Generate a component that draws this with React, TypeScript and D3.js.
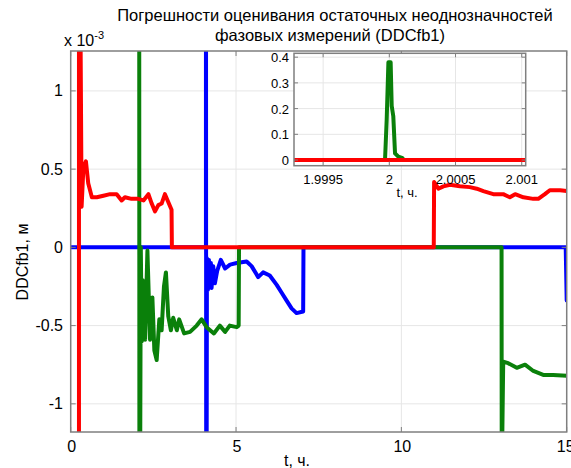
import React from "react";
import * as d3 from "d3";

// main plot values (x 10^-3), t in hours
const redSeries: [number, number][] = [
  [0.25, -3], [0.25, 3], [0.33, 0.26], [0.38, 0.49], [0.43, 0.535], [0.46, 0.55],
  [0.53, 0.41], [0.64, 0.32], [0.79, 0.32], [0.99, 0.33], [1.19, 0.34], [1.39, 0.34],
  [1.54, 0.3], [1.64, 0.32], [1.84, 0.31], [2.04, 0.31], [2.2, 0.3], [2.35, 0.34],
  [2.45, 0.28], [2.55, 0.23], [2.65, 0.27], [2.75, 0.28], [2.85, 0.34], [2.95, 0.29],
  [3.05, 0.24], [3.06, 0], [10.98, 0], [10.99, 0.417], [11.12, 0.375], [11.27, 0.39],
  [11.47, 0.4], [11.77, 0.39], [12.07, 0.385], [12.28, 0.375], [12.48, 0.36], [12.78, 0.34],
  [13.08, 0.34], [13.28, 0.32], [13.44, 0.34], [13.69, 0.32], [13.99, 0.31], [14.14, 0.31],
  [14.34, 0.34], [14.49, 0.365], [14.8, 0.365], [15, 0.36],
];

const greenSeries: [number, number][] = [
  [2.07, 3], [2.08, -3], [2.12, 0.0], [2.15, -0.6], [2.18, -0.21], [2.25, -0.59],
  [2.32, -0.02], [2.4, -0.59], [2.47, -0.32], [2.53, -0.66], [2.6, -0.72], [2.68, -0.46],
  [2.75, -0.53], [2.82, -0.25], [2.88, -0.16], [2.95, -0.44], [3.03, -0.53], [3.1, -0.45],
  [3.21, -0.53], [3.28, -0.46], [3.43, -0.55], [3.61, -0.54], [3.81, -0.5], [3.96, -0.46],
  [4.11, -0.51], [4.33, -0.55], [4.51, -0.5], [4.67, -0.54], [4.81, -0.5], [5.02, -0.51],
  [5.08, -0.5], [5.09, 0], [13.03, 0], [13.035, -1.5], [13.08, -0.73], [13.23, -0.74],
  [13.49, -0.77], [13.74, -0.75], [13.99, -0.79], [14.29, -0.815], [14.59, -0.815], [15, -0.82],
];

const blueSeries: [number, number][] = [
  [0, 0], [4.09, 0], [4.09, 3], [4.1, -3], [4.12, -0.07], [4.15, -0.27], [4.18, -0.08],
  [4.21, -0.25], [4.24, -0.1], [4.26, -0.26], [4.31, -0.12], [4.36, -0.23], [4.43, -0.15],
  [4.54, -0.08], [4.67, -0.135], [4.82, -0.11], [5.02, -0.1], [5.32, -0.09], [5.47, -0.12],
  [5.67, -0.19], [5.82, -0.16], [6.02, -0.18], [6.23, -0.24], [6.38, -0.29], [6.53, -0.34],
  [6.68, -0.39], [6.83, -0.42], [7.03, -0.41], [7.04, 0], [14.97, 0], [15, -0.34],
];

// inset (zoom around t = 2)
const insetGreen: [number, number][] = [
  [1.999968, 0.007], [1.99998, 0.156], [1.999993, 0.38], [2.00001, 0.38], [2.000018, 0.21],
  [2.00003, 0.17], [2.000043, 0.026], [2.000068, 0.013], [2.0001, 0.007],
];
const insetRed: [number, number][] = [[1.99928, 0], [2.00103, 0]];

const xTicks = [0, 5, 10, 15];
const yTicks = [-1, -0.5, 0, 0.5, 1];
const insetXTicks = [1.9995, 2, 2.0005, 2.001];
const insetYTicks = [0, 0.1, 0.2, 0.3, 0.4];

const RED = "#ff0000";
const GREEN = "#0a800a";
const BLUE = "#0000ff";
const AXIS = "#7f7f7f";
const GRID = "#e6e6e6";
const FONT = "'Liberation Sans', Arial, sans-serif";

export default function App() {
  const W = 571;
  const H = 468;
  const m = { left: 70.7, right: 566.7, top: 51, bottom: 432 };
  const x = d3.scaleLinear().domain([0, 15]).range([m.left, m.right]);
  const y = d3.scaleLinear().domain([-1.18, 1.255]).range([m.bottom, m.top]);

  const ins = { left: 294, right: 525.7, top: 53.3, bottom: 165.7 };
  const ix = d3.scaleLinear().domain([1.99928, 2.00103]).range([ins.left, ins.right]);
  const iy = d3.scaleLinear().domain([-0.022, 0.415]).range([ins.bottom, ins.top]);

  const line = d3.line<[number, number]>().x((d) => x(d[0])).y((d) => y(d[1]));
  const iline = d3.line<[number, number]>().x((d) => ix(d[0])).y((d) => iy(d[1]));

  const tick = 5;

  return (
    <svg width={W} height={H} style={{ position: "absolute", left: 0, top: 0, fontFamily: FONT }}>
      <rect width={W} height={H} fill="#fff" />
      <defs>
        <clipPath id="mainClip">
          <rect x={m.left} y={m.top} width={m.right - m.left} height={m.bottom - m.top} />
        </clipPath>
        <clipPath id="insetClip">
          <rect x={ins.left} y={ins.top} width={ins.right - ins.left} height={ins.bottom - ins.top} />
        </clipPath>
      </defs>

      {/* title */}
      <text x={335} y={21} textAnchor="middle" fontSize={16.5}>
        Погрешности оценивания остаточных неоднозначностей
      </text>
      <text x={330} y={41} textAnchor="middle" fontSize={16.5}>
        фазовых измерений (DDCfb1)
      </text>

      {/* grid */}
      {xTicks.map((t) => (
        <line key={"gx" + t} x1={x(t)} x2={x(t)} y1={m.top} y2={m.bottom} stroke={GRID} />
      ))}
      {yTicks.map((t) => (
        <line key={"gy" + t} x1={m.left} x2={m.right} y1={y(t)} y2={y(t)} stroke={GRID} />
      ))}

      {/* series */}
      <g clipPath="url(#mainClip)" fill="none" strokeWidth={4} strokeLinejoin="round" strokeLinecap="round">
        <path d={line(blueSeries) || ""} stroke={BLUE} />
        <path d={line(greenSeries) || ""} stroke={GREEN} />
        <path d={line(redSeries) || ""} stroke={RED} />
      </g>

      {/* main box and ticks */}
      <rect x={m.left} y={m.top} width={m.right - m.left} height={m.bottom - m.top} fill="none" stroke={AXIS} strokeWidth={1.5} />
      {xTicks.map((t) => (
        <g key={"tx" + t} stroke={AXIS}>
          <line x1={x(t)} x2={x(t)} y1={m.bottom} y2={m.bottom - tick} />
          <line x1={x(t)} x2={x(t)} y1={m.top} y2={m.top + tick} />
        </g>
      ))}
      {yTicks.map((t) => (
        <g key={"ty" + t} stroke={AXIS}>
          <line x1={m.left} x2={m.left + tick} y1={y(t)} y2={y(t)} />
          <line x1={m.right} x2={m.right - tick} y1={y(t)} y2={y(t)} />
        </g>
      ))}
      {xTicks.map((t) => (
        <text key={"lx" + t} x={x(t) + (t === 15 ? -1 : 1)} y={452} textAnchor="middle" fontSize={16}>
          {t}
        </text>
      ))}
      {yTicks.map((t) => (
        <text key={"ly" + t} x={63} y={y(t) + 5.5} textAnchor="end" fontSize={16}>
          {t}
        </text>
      ))}
      <text x={64} y={46} fontSize={16}>
        x 10
        <tspan dy={-7} fontSize={11}>-3</tspan>
      </text>
      <text x={297} y={466} textAnchor="middle" fontSize={16}>
        t, ч.
      </text>
      <text transform={`translate(28,262) rotate(-90)`} textAnchor="middle" fontSize={16}>
        DDCfb1, м
      </text>

      {/* inset */}
      <rect x={ins.left} y={ins.top} width={ins.right - ins.left} height={ins.bottom - ins.top} fill="#fff" />
      {insetXTicks.map((t) => (
        <line key={"igx" + t} x1={ix(t)} x2={ix(t)} y1={ins.top} y2={ins.bottom} stroke={GRID} />
      ))}
      {insetYTicks.map((t) => (
        <line key={"igy" + t} x1={ins.left} x2={ins.right} y1={iy(t)} y2={iy(t)} stroke={GRID} />
      ))}
      <g clipPath="url(#insetClip)" fill="none" strokeWidth={4} strokeLinejoin="round" strokeLinecap="round">
        <path d={iline(insetGreen) || ""} stroke={GREEN} />
        <path d={iline(insetRed) || ""} stroke={RED} />
      </g>
      <rect x={ins.left} y={ins.top} width={ins.right - ins.left} height={ins.bottom - ins.top} fill="none" stroke={AXIS} strokeWidth={1.5} />
      {insetXTicks.map((t) => (
        <g key={"itx" + t} stroke={AXIS}>
          <line x1={ix(t)} x2={ix(t)} y1={ins.bottom} y2={ins.bottom - 4} />
          <line x1={ix(t)} x2={ix(t)} y1={ins.top} y2={ins.top + 4} />
        </g>
      ))}
      {insetYTicks.map((t) => (
        <g key={"ity" + t} stroke={AXIS}>
          <line x1={ins.left} x2={ins.left + 4} y1={iy(t)} y2={iy(t)} />
          <line x1={ins.right} x2={ins.right - 4} y1={iy(t)} y2={iy(t)} />
        </g>
      ))}
      {insetXTicks.map((t) => (
        <text key={"ilx" + t} x={ix(t)} y={184} textAnchor="middle" fontSize={13}>
          {t}
        </text>
      ))}
      {insetYTicks.map((t) => (
        <text key={"ily" + t} x={289} y={iy(t) + 5} textAnchor="end" fontSize={13}>
          {t}
        </text>
      ))}
      <text x={407} y={197} textAnchor="middle" fontSize={13}>
        t, ч.
      </text>
    </svg>
  );
}
